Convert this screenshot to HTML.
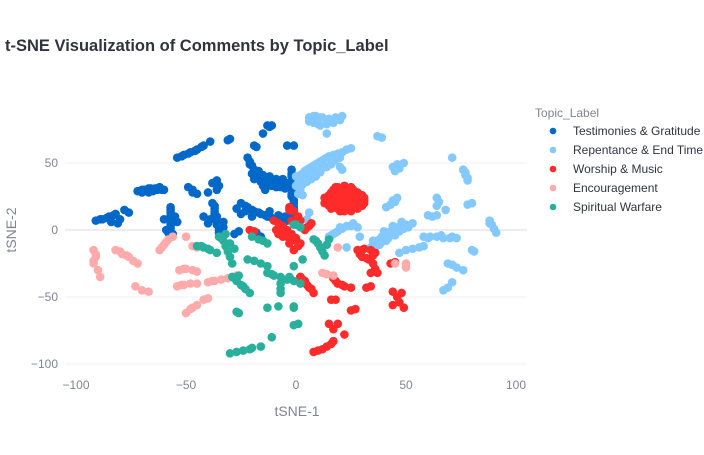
<!DOCTYPE html>
<html><head><meta charset="utf-8"><style>
body{margin:0;background:#fff;font-family:"Liberation Sans",Arial,sans-serif;}
svg text{font-family:"Liberation Sans",Arial,sans-serif;}
</style></head><body>
<svg id="chart" width="704" height="450">
<text x="5" y="51" font-size="16.5" font-weight="bold" fill="#31333f">t-SNE Visualization of Comments by Topic_Label</text>
<g id="grid"></g><g id="marks"></g><g id="axes"></g>
<text x="297" y="416" font-size="14" fill="#808495" text-anchor="middle">tSNE-1</text>
<text x="16" y="230" font-size="14" fill="#808495" text-anchor="middle" transform="rotate(-90 16 230)">tSNE-2</text>
<g id="legend"></g>
</svg>
<script>
const categories=["Testimonies & Gratitude","Repentance & End Time","Worship & Music","Encouragement","Spiritual Warfare"];
const colors=["#0068c9","#83c9ff","#ff2b2b","#ffabab","#29b09d"];
const xTicks=[-100,-50,0,50,100];
const yTicks=[-100,-50,0,50];
const testimonies=[[-54,54],[-52,55],[-51,56],[-49,57],[-48,58],[-46,59],[-45,60],[-43,62],[-42,63],[-39,66],[-30,68],[-31,67],[-11,78],[-13,78],[-12,77],[-15,72],[-19,63],[-18,62],[-4,63],[-1,63],
[-72,29],[-70,30],[-69,30],[-67,31],[-66,31],[-64,31],[-63,30],[-61,30],[-60,30],[-67,28],[-62,32],[-70,28],[-65,29],
[-91,7],[-89,8],[-88,8],[-86,9],[-85,10],[-83,11],[-82,12],[-80,8],[-78,15],[-76,13],[-84,6],[-81,5],
[-47,30],[-45,27],[-49,32],[-47,28],[-36,37],[-35,33],[-38,35],[-40,28],[-36,30],
[-22,54],[-21,51],[-20,48],[-19,45],[-18,42],[-17,39],[-16,36],[-15,33],[-14,30],[-12,35],[-10,37],[-8,36],[-6,35],[-4,35],[-2,36],[-20,42],[-14,38],[-9,32],[-5,31],[-21,49],[-17,44],[-15,41],[-12,40],[-11,33],[-7,32],[-3,32],[-19,38],[-13,34],[-9,38],[-6,38],
[-2,45],[-2,42],[-2,40],[-1,37],[-1,33],[-1,30],[-2,27],[-2,25],[-1,22],[-1,20],[-1,17],[-1,15],[-2,12],[-2,10],
[-57,17],[-57,15],[-57,13],[-57,11],[-57,9],[-57,7],[-57,5],[-57,3],[-57,1],[-56,-3],[-59,0],[-54,6],[-60,8],[-55,10],[-58,-2],
[-38,20],[-37,18],[-37,16],[-37,14],[-37,12],[-36,10],[-36,8],[-36,6],[-36,4],[-35,2],[-35,0],[-35,-2],[-40,5],[-33,6],[-42,10],[-39,8],[-33,2],
[-25,20],[-23,18],[-22,17],[-20,15],[-19,14],[-17,13],[-16,12],[-14,11],[-13,10],[-11,9],[-10,8],[-7,8],[-4,7],[-1,9],[-20,10],[-25,12],[-12,14],[-23,14],[-8,11],[-5,10],[-27,16],
[-16,-5],[-18,-2],[-28,-3],[-26,-1]];
const repentance=[[6,84],[8,85],[9,85],[11,84],[12,84],[15,83],[18,84],[21,85],[8,80],[10,79],[11,78],[14,79],[17,80],[20,82],[6,81],[14,72],[37,70],[39,69],
[0,40],[2,41],[3,42],[4,44],[5,45],[6,46],[7,47],[8,48],[9,49],[10,50],[11,51],[12,52],[13,53],[14,54],[15,55],[17,56],[19,57],[21,58],[23,60],[25,61],[4,38],[8,43],[12,46],[16,49],[1,35],[2,30],[3,26],[6,40],[10,47],[3,34],[5,36],[7,38],[9,40],[11,43],[14,47],[18,52],[20,54],[2,38],[0,33],[1,27],
[20,47],[21,45],[44,47],[46,49],[49,50],[45,44],[47,46],[44,22],[46,24],[41,17],[43,19],[45,21],
[71,54],[76,45],[77,43],[77,41],[78,39],[78,37],[64,24],[65,21],[64,18],[62,10],[64,11],[60,11],[68,15],[78,19],[80,20],
[88,7],[88,5],[89,4],[90,1],[91,-2],[58,-5],[61,-5],[64,-5],[67,-6],[70,-6],[73,-6],[60,-6],[66,-4],[71,-5],[80,-15],[81,-16],
[69,-25],[71,-26],[73,-28],[76,-30],[67,-45],[69,-43],[71,-39],
[34,-13],[35,-11],[36,-10],[37,-8],[38,-7],[39,-5],[40,-4],[41,-3],[42,-2],[43,-1],[44,0],[45,1],[46,2],[48,3],[50,4],[53,5],[36,-13],[39,-9],[42,-6],[45,-4],[38,-11],[41,-8],[47,-1],[49,1],[51,2],[35,-8],[40,-1],[44,3],[48,6],
[47,-17],[50,-15],[53,-14],[56,-13],[58,-12],
[15,-5],[16,-4],[17,-3],[18,-2],[19,-1],[21,1],[23,3],[26,5],[25,3],[20,2],[29,-5],[6,13],[28,2],[23,-13],[5,8]];
const worship=[[13,20],[16,20],[19,20],[22,20],[25,20],[28,20],[31,20],[14,24],[17,24],[20,24],[23,24],[26,24],[29,24],[31,24],[16,28],[19,28],[22,28],[25,28],[28,28],[19,32],[22,32],[25,32],[16,16],[19,16],[22,16],[25,16],[28,16],[22,14],
[14,22],[17,22],[20,22],[23,22],[26,22],[29,22],[15,26],[18,26],[21,26],[24,26],[27,26],[30,26],[17,30],[20,30],[23,30],[26,30],[15,18],[18,18],[21,18],[24,18],[27,18],[30,18],[20,14],[25,14],[13,24],[31,22],[18,32],[22,33],
[-3,17],[-1,14],[1,10],[2,7],[-2,7],[5,2],[7,5],[0,-7],[2,-10],[4,0],[6,3],
[28,-15],[30,-15],[31,-14],[34,-15],[36,-17],[30,-20],[32,-21],[33,-22],[35,-25],[36,-29],[34,-32],[37,-32],[32,-43],[34,-42],[29,-18],[35,-19],
[19,-40],[21,-41],[22,-42],[25,-43],[17,-36],[18,-38],
[2,-35],[3,-37],[4,-38],[5,-41],[6,-43],[7,-44],[8,-47],[16,-52],[18,-52],[25,-60],[27,-59],[43,-25],[45,-24],
[44,-46],[46,-50],[47,-54],[49,-58],[48,-47],[44,-56],
[15,-70],[19,-70],[17,-74],[22,-78],[8,-91],[10,-90],[12,-89],[14,-87],[16,-85],[17,-83],
[-10,7],[-8,5],[-6,3],[-4,0],[-2,-3],[0,-6],[-9,0],[-6,-5],[-3,-10],[-1,-15],[1,-12],[-21,0],[-19,-1],[-3,15],[2,-35],[-7,0],[-4,-5],[-8,-3],[-2,-8]];
const encouragement=[[-92,-15],[-91,-18],[-91,-20],[-92,-23],[-92,-25],[-90,-30],[-89,-35],
[-82,-15],[-80,-16],[-79,-18],[-77,-19],[-76,-20],[-74,-23],[-72,-25],[-73,-42],[-70,-45],[-67,-46],
[-62,-15],[-61,-13],[-60,-11],[-59,-9],[-58,-7],[-56,-5],[-50,-5],
[-53,-30],[-51,-29],[-50,-29],[-47,-30],[-45,-31],[-54,-42],[-52,-41],[-51,-41],[-48,-40],[-45,-40],
[-50,-62],[-48,-59],[-47,-58],[-45,-56],[-42,-52],[-40,-51],
[-40,-39],[-38,-38],[-37,-38],[-34,-37],[-31,-36],[-29,-35],[-28,-35],[-27,-34],[-47,-12],[-45,-13],
[12,-32],[14,-33],[17,-34],[19,-13],[45,-25],[50,-28],[50,-25]];
const warfare=[[-45,-12],[-43,-12],[-42,-13],[-40,-14],[-39,-15],[-36,-17],
[-35,-5],[-34,-6],[-33,-8],[-32,-12],[-31,-16],[-30,-20],[-29,-25],[-32,-3],[-28,-14],[-30,-10],
[-29,-35],[-28,-36],[-27,-38],[-25,-41],[-24,-42],[-23,-44],[-21,-47],[-26,-34],
[-20,-5],[-17,-7],[-15,-8],[-13,-10],[-22,-22],[-19,-23],[-16,-25],[-13,-27],
[-13,-32],[-11,-33],[-10,-34],[-7,-35],[-4,-37],[-1,-38],[2,-40],[-7,-40],[-7,-44],[-7,-47],
[-27,-61],[-26,-62],[-13,-58],[-8,-57],[-1,-58],[-1,-71],
[-11,-80],[-16,-87],[-30,-92],[-27,-91],[-24,-90],[-21,-89],[-20,-88],
[-1,4],[0,4],[2,2],
[8,-7],[9,-8],[10,-10],[11,-13],[12,-16],[13,-19],[15,-7],[14,-11],[3,-22],[-1,-27],[-3,-35],[-1,-57],[1,-70]];
const seriesData=[testimonies,repentance,worship,encouragement,warfare];
const x0=76,x1=516,xd0=-100,xd1=100, yp0=297,yp1=163,yd0=-50,yd1=50;
const sx=v=>x0+(v-xd0)*(x1-x0)/(xd1-xd0);
const sy=v=>yp0+(v-yd0)*(yp1-yp0)/(yd1-yd0);
const NS="http://www.w3.org/2000/svg";
const grid=document.getElementById('grid'),axes=document.getElementById('axes'),marks=document.getElementById('marks'),legend=document.getElementById('legend');
yTicks.forEach(t=>{
 const l=document.createElementNS(NS,'line');
 l.setAttribute('x1',65);l.setAttribute('x2',527);l.setAttribute('y1',sy(t));l.setAttribute('y2',sy(t));
 l.setAttribute('stroke',t===0?'#e6e6ee':'#f0f0f4');l.setAttribute('stroke-width',t===0?1.5:1);
 
 
 grid.appendChild(l);
 const tx=document.createElementNS(NS,'text');
 tx.setAttribute('x',58);tx.setAttribute('y',sy(t)+4);tx.setAttribute('text-anchor','end');tx.setAttribute('font-size','12');tx.setAttribute('fill','#808495');
 tx.textContent=t===0?'0':String(t).replace('-','−');
 
 
 axes.appendChild(tx);
});
xTicks.forEach(t=>{
 const tx=document.createElementNS(NS,'text');
 tx.setAttribute('x',sx(t));tx.setAttribute('y',389);tx.setAttribute('text-anchor','middle');tx.setAttribute('font-size','12');tx.setAttribute('fill','#808495');
 tx.textContent=String(t).replace('-','−');
 
 
 axes.appendChild(tx);
});
seriesData.forEach((pts,i)=>{
 const g=document.createElementNS(NS,'g');
 
 
 pts.forEach(p=>{
  const c=document.createElementNS(NS,'circle');
  c.setAttribute('cx',sx(p[0]));c.setAttribute('cy',sy(p[1]));c.setAttribute('r',4.3);c.setAttribute('fill',colors[i]);
  
  
  g.appendChild(c);
 });
 marks.appendChild(g);
});
const lt=document.createElementNS(NS,'text');
lt.setAttribute('x',535);lt.setAttribute('y',117);lt.setAttribute('font-size','12');lt.setAttribute('fill','#808495');lt.textContent='Topic_Label';


legend.appendChild(lt);
categories.forEach((c,i)=>{
 const y=131+i*19;
 const g=document.createElementNS(NS,'g');
 
 
 const m=document.createElementNS(NS,'circle');
 m.setAttribute('cx',553);m.setAttribute('cy',y);m.setAttribute('r',3.3);m.setAttribute('fill',colors[i]);
 
 
 const t=document.createElementNS(NS,'text');
 t.setAttribute('x',573);t.setAttribute('y',y+4);t.setAttribute('font-size','12');t.setAttribute('fill','#31333f');t.textContent=c;
 
 
 g.appendChild(m);g.appendChild(t);legend.appendChild(g);
});
</script>
</body></html>
